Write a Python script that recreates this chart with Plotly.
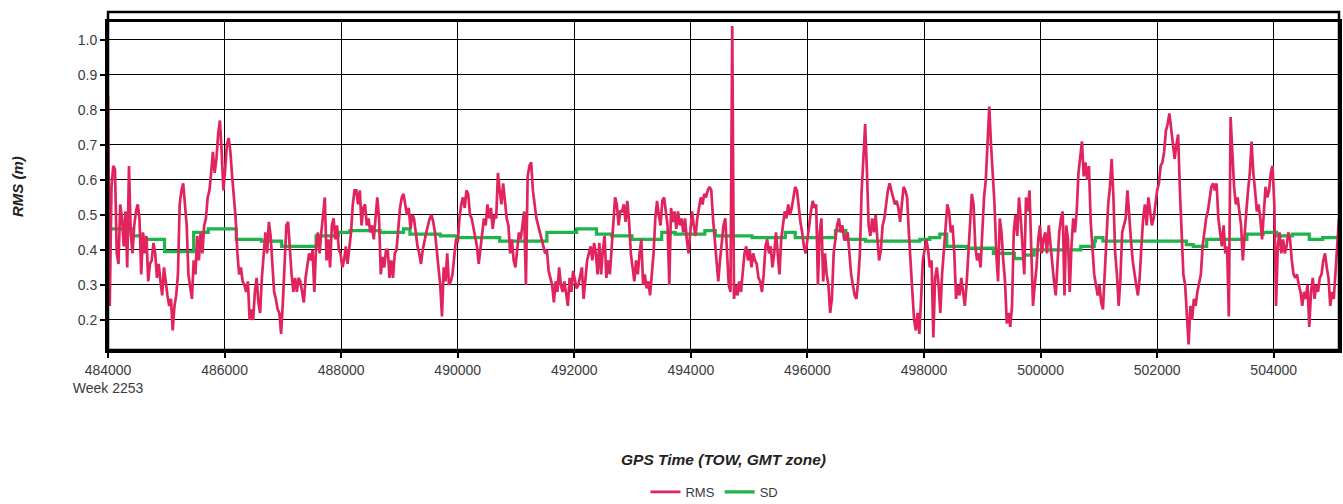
import numpy as np
import plotly.graph_objects as go

# GPS week 2253, time of week of the first epoch, 30 s epochs
WEEK = 2253
TOW0 = 484000
EPOCH = 30

# RMS (m) per epoch
rms = [
    0.84, 0.24, 0.58, 0.64, 0.63, 0.39, 0.36, 0.53, 0.49, 0.41, 0.51, 0.35, 0.64,
    0.45, 0.39, 0.47, 0.51, 0.53, 0.49, 0.33, 0.45, 0.39, 0.44, 0.31, 0.36, 0.37, 0.42, 0.39, 0.32, 0.36, 0.31, 0.27, 0.35, 0.30,
    0.27, 0.24, 0.26, 0.17, 0.24, 0.27, 0.33, 0.53, 0.57, 0.59, 0.53, 0.47, 0.33, 0.30, 0.26, 0.37, 0.33, 0.44, 0.37, 0.45, 0.39, 0.47,
    0.49, 0.55, 0.57, 0.62, 0.68, 0.62, 0.66, 0.73, 0.77, 0.68, 0.57, 0.63, 0.70, 0.72, 0.68, 0.61, 0.56, 0.49, 0.39, 0.33, 0.35, 0.31,
    0.30, 0.28, 0.31, 0.20, 0.23, 0.20, 0.28, 0.32, 0.25, 0.22, 0.32, 0.39, 0.45, 0.39, 0.48, 0.44, 0.35, 0.28, 0.26, 0.23, 0.22,
    0.16, 0.25, 0.37, 0.47, 0.48, 0.39, 0.33, 0.28, 0.32, 0.28, 0.32, 0.31, 0.28, 0.25, 0.32, 0.35, 0.39, 0.37, 0.40, 0.28, 0.41, 0.45, 0.39,
    0.45, 0.51, 0.55, 0.37, 0.43, 0.35, 0.47, 0.49, 0.43, 0.47, 0.40, 0.39, 0.35, 0.37, 0.41, 0.36, 0.40, 0.45, 0.53, 0.57,
    # 488200 ->
    0.57, 0.53, 0.57, 0.47, 0.52,
    0.53, 0.47, 0.49, 0.45, 0.47, 0.43, 0.49, 0.55, 0.49, 0.33, 0.38, 0.35, 0.40,
    0.40, 0.32, 0.37, 0.32, 0.39, 0.40, 0.46, 0.52, 0.55, 0.56, 0.53, 0.50, 0.52, 0.46, 0.50,
    0.49, 0.45, 0.41, 0.39, 0.36, 0.40, 0.43, 0.45, 0.47, 0.49, 0.50,
    0.48, 0.45, 0.40, 0.34, 0.30, 0.21, 0.35, 0.31, 0.39, 0.30, 0.31, 0.33, 0.39, 0.43,
    0.42, 0.49, 0.53, 0.55, 0.52, 0.57, 0.56, 0.50, 0.49, 0.46, 0.43, 0.41,
    0.36, 0.40, 0.45, 0.49, 0.47, 0.53, 0.49, 0.52, 0.46, 0.50, 0.49, 0.62, 0.57, 0.53, 0.59, 0.53, 0.49, 0.47, 0.39, 0.43, 0.37,
    0.35, 0.41, 0.45, 0.43, 0.47, 0.51, 0.30, 0.61, 0.64, 0.65, 0.57, 0.53, 0.49, 0.47, 0.45, 0.43, 0.41, 0.39, 0.40, 0.34, 0.32, 0.30, 0.25, 0.31,
    0.28, 0.35, 0.30, 0.28, 0.31, 0.27, 0.24, 0.32, 0.28, 0.34, 0.31, 0.29, 0.30, 0.33, 0.35, 0.26, 0.33, 0.37, 0.39, 0.41, 0.37, 0.42, 0.39, 0.33,
    # 492400 ->
    0.42, 0.33, 0.40,
    0.44, 0.32, 0.37, 0.33, 0.41, 0.49, 0.55, 0.53, 0.47, 0.51,
    0.51, 0.53, 0.48, 0.54, 0.48, 0.39, 0.35, 0.31, 0.37, 0.33, 0.39,
    0.43, 0.30, 0.33, 0.29, 0.31, 0.27, 0.33, 0.39, 0.49, 0.54, 0.50,
    0.47, 0.54, 0.55, 0.51, 0.47, 0.30, 0.52, 0.48, 0.51, 0.46, 0.51,
    0.47, 0.49, 0.45, 0.49, 0.43, 0.39, 0.45, 0.51, 0.47, 0.44, 0.49,
    0.52, 0.55, 0.53, 0.56, 0.55, 0.57, 0.58, 0.57, 0.49, 0.43, 0.39, 0.31, 0.37, 0.43, 0.47, 0.49, 0.39, 0.30, 0.28,
    1.04,
    0.26, 0.30, 0.27, 0.31, 0.28, 0.33, 0.39, 0.41, 0.37, 0.40, 0.35, 0.39, 0.37,
    0.36, 0.32, 0.31, 0.28, 0.33, 0.41, 0.43, 0.39, 0.41, 0.35, 0.39, 0.45, 0.39, 0.33,
    0.43, 0.47, 0.51, 0.49, 0.53, 0.50, 0.52, 0.55, 0.58, 0.57, 0.52, 0.48, 0.45, 0.41, 0.39, 0.44, 0.47, 0.51, 0.54,
    0.52, 0.53, 0.30, 0.45, 0.49, 0.31, 0.39, 0.33, 0.30, 0.22, 0.26, 0.39, 0.43, 0.47, 0.49, 0.45, 0.47, 0.43,
    # 496600 ->
    0.43, 0.45, 0.39,
    0.33, 0.30, 0.27, 0.26, 0.31, 0.39, 0.57, 0.66, 0.76, 0.63, 0.47, 0.44, 0.49, 0.45, 0.50, 0.43, 0.37, 0.40,
    0.47, 0.49, 0.53, 0.57, 0.59, 0.57, 0.55, 0.53, 0.54, 0.52, 0.48, 0.53, 0.58, 0.57, 0.55, 0.45, 0.35, 0.28,
    0.20, 0.17, 0.22, 0.16, 0.26, 0.37, 0.40, 0.43,
    0.40, 0.35, 0.37, 0.15, 0.32, 0.35, 0.30, 0.22, 0.33, 0.39, 0.45, 0.53, 0.51, 0.45, 0.47,
    0.39, 0.26, 0.30, 0.27, 0.32, 0.28, 0.24, 0.30, 0.39, 0.45, 0.56, 0.53, 0.41, 0.37, 0.39, 0.35, 0.45, 0.55,
    0.60, 0.70, 0.81, 0.70, 0.62, 0.53, 0.39, 0.31, 0.49, 0.45, 0.37, 0.31, 0.19, 0.22, 0.18, 0.24, 0.45, 0.50,
    0.44, 0.55, 0.49,
    0.41, 0.33, 0.55, 0.51, 0.57, 0.39, 0.24, 0.30, 0.35, 0.43, 0.47, 0.39, 0.43, 0.45, 0.39, 0.47, 0.41, 0.35, 0.31, 0.27,
    0.37, 0.45, 0.49, 0.51, 0.27, 0.47, 0.43, 0.28, 0.41, 0.49, 0.45, 0.51, 0.62, 0.66, 0.71, 0.61, 0.65, 0.60, 0.64,
    # 500860 ->
    0.48, 0.39, 0.33, 0.30,
    0.27, 0.30, 0.25, 0.23, 0.32, 0.43, 0.53, 0.58, 0.66, 0.55, 0.39, 0.33, 0.24, 0.32, 0.45, 0.47,
    0.49, 0.57, 0.49, 0.43, 0.37, 0.33, 0.30, 0.27, 0.32, 0.41,
    0.49, 0.53, 0.47, 0.55, 0.51,
    0.47, 0.49, 0.53, 0.57, 0.59, 0.64, 0.65, 0.68, 0.74, 0.76, 0.79, 0.74, 0.70, 0.66, 0.70, 0.73, 0.57, 0.45,
    0.33, 0.30, 0.20, 0.13, 0.24, 0.20, 0.26, 0.24, 0.28, 0.31, 0.33,
    0.41, 0.45, 0.49, 0.51, 0.55, 0.58, 0.59, 0.57, 0.59,
    0.49, 0.45, 0.41, 0.47, 0.39, 0.41, 0.21, 0.78, 0.66, 0.58, 0.53, 0.55, 0.51, 0.47, 0.37, 0.45, 0.51, 0.57,
    0.62, 0.71, 0.62, 0.57, 0.51, 0.53, 0.49, 0.43, 0.51, 0.58, 0.55, 0.57, 0.62, 0.64, 0.53, 0.24,
    0.41, 0.45, 0.39, 0.43, 0.39, 0.41, 0.45, 0.43,
    0.37, 0.33, 0.32, 0.33, 0.30, 0.28, 0.24, 0.28, 0.26, 0.30, 0.18, 0.28, 0.32, 0.26, 0.30, 0.28, 0.32,
    0.33, 0.37, 0.39, 0.35, 0.32, 0.24, 0.28, 0.26, 0.33, 0.39, 0.49,
]

# SD (m): value changes (seconds after TOW0) and level
sd_dt = [0, 400, 600, 970, 1470, 1720, 2200, 2630, 2980, 3570, 3950, 4150, 4670, 5070,
         5180, 5700, 5980, 6720, 7530, 8040, 8380, 8640, 8990, 9500, 9730, 10240, 10420,
         11050, 11620, 11790, 12480, 12660, 13000, 13930, 14100, 14270, 14390, 14730,
         15190, 15550, 15720, 15890, 16690, 16920, 16940, 17070, 18500, 18620, 18850,
         19540, 19820, 20050, 20320, 20610, 20840, 21120]
sd = [0.46, 0.44, 0.43, 0.395, 0.45, 0.46, 0.43, 0.425, 0.41, 0.44, 0.45, 0.455, 0.45, 0.46,
      0.445, 0.44, 0.435, 0.425, 0.45, 0.46, 0.445, 0.44, 0.43, 0.45, 0.445, 0.455, 0.44,
      0.435, 0.45, 0.435, 0.455, 0.43, 0.425, 0.43, 0.435, 0.445, 0.41, 0.405,
      0.39, 0.375, 0.385, 0.40, 0.41, 0.425, 0.435, 0.425, 0.415, 0.41, 0.43,
      0.445, 0.45, 0.44, 0.445, 0.43, 0.435, 0.435]

tick_tow = list(range(484000, 505000, 2000))
tick_text = [str(t) for t in tick_tow]
tick_text[0] = f"{tick_tow[0]}<br>Week {WEEK}"
y_ticks = [0.2, 0.3, 0.4, 0.5, 0.6, 0.7, 0.8, 0.9, 1.0]

tow = TOW0 + EPOCH * np.arange(len(rms))
sd_tow = [TOW0 + d for d in sd_dt]

RED = '#E2245E'
GREEN = '#1DB44C'
FONT = 'Liberation Sans, Arial, sans-serif'

fig = go.Figure()
fig.add_trace(go.Scatter(x=sd_tow, y=sd, mode='lines', name='SD', line=dict(color=GREEN, width=3.2, shape='hv'),
                         legendrank=2))
fig.add_trace(go.Scatter(x=tow, y=rms, mode='lines', name='RMS', line=dict(color=RED, width=2.7),
                         legendrank=1))

axis_common = dict(showline=True, linecolor='black', linewidth=3, mirror=True, automargin=False,
                   showgrid=True, gridcolor='black', gridwidth=1.4, zeroline=False,
                   ticks='outside', ticklen=5, tickcolor='black', tickwidth=1.5,
                   tickfont=dict(family=FONT, size=14, color='#3a3a3a'))

fig.update_xaxes(range=[484000, 505120], tickvals=tick_tow, ticktext=tick_text, **axis_common)
fig.update_yaxes(range=[0.114, 1.0514], tickvals=y_ticks, tickformat='.1f', **axis_common)

fig.update_layout(
    width=1343, height=504,
    margin=dict(l=108, r=4, t=22, b=154, autoexpand=False),
    paper_bgcolor='white', plot_bgcolor='white',
    font=dict(family=FONT, size=13, color='#333'),
    showlegend=True,
    legend=dict(orientation='h', xref='container', yref='container', x=0.532, xanchor='center',
                y=(504 - 492) / 504, yanchor='middle',
                font=dict(family=FONT, size=13, color='#3a3a3a'), itemwidth=30, tracegroupgap=0),
    shapes=[dict(type='rect', xref='paper', yref='paper', x0=0, x1=1, y0=0, y1=1 + 10 / 328,
                 line=dict(color='black', width=2.5), layer='above')],
    annotations=[
        dict(text='<b><i>RMS (m)</i></b>', xref='paper', yref='paper', x=(17 - 108) / 1231, y=0.5,
             textangle=-90, showarrow=False, xanchor='center', yanchor='middle',
             font=dict(family=FONT, size=15, color='#222')),
        dict(text='<b><i>GPS Time (TOW, GMT zone)</i></b>', xref='paper', yref='paper', x=0.5,
             y=(350 - 459) / 328, showarrow=False, xanchor='center', yanchor='middle',
             font=dict(family=FONT, size=15.5, color='#222')),
    ],
)

# the page is photographed at the window size, so drop the default body margin
fig.write_html("out.html", config={'displayModeBar': False},
               post_script="document.body.style.margin='0';document.body.style.overflow='hidden';")
